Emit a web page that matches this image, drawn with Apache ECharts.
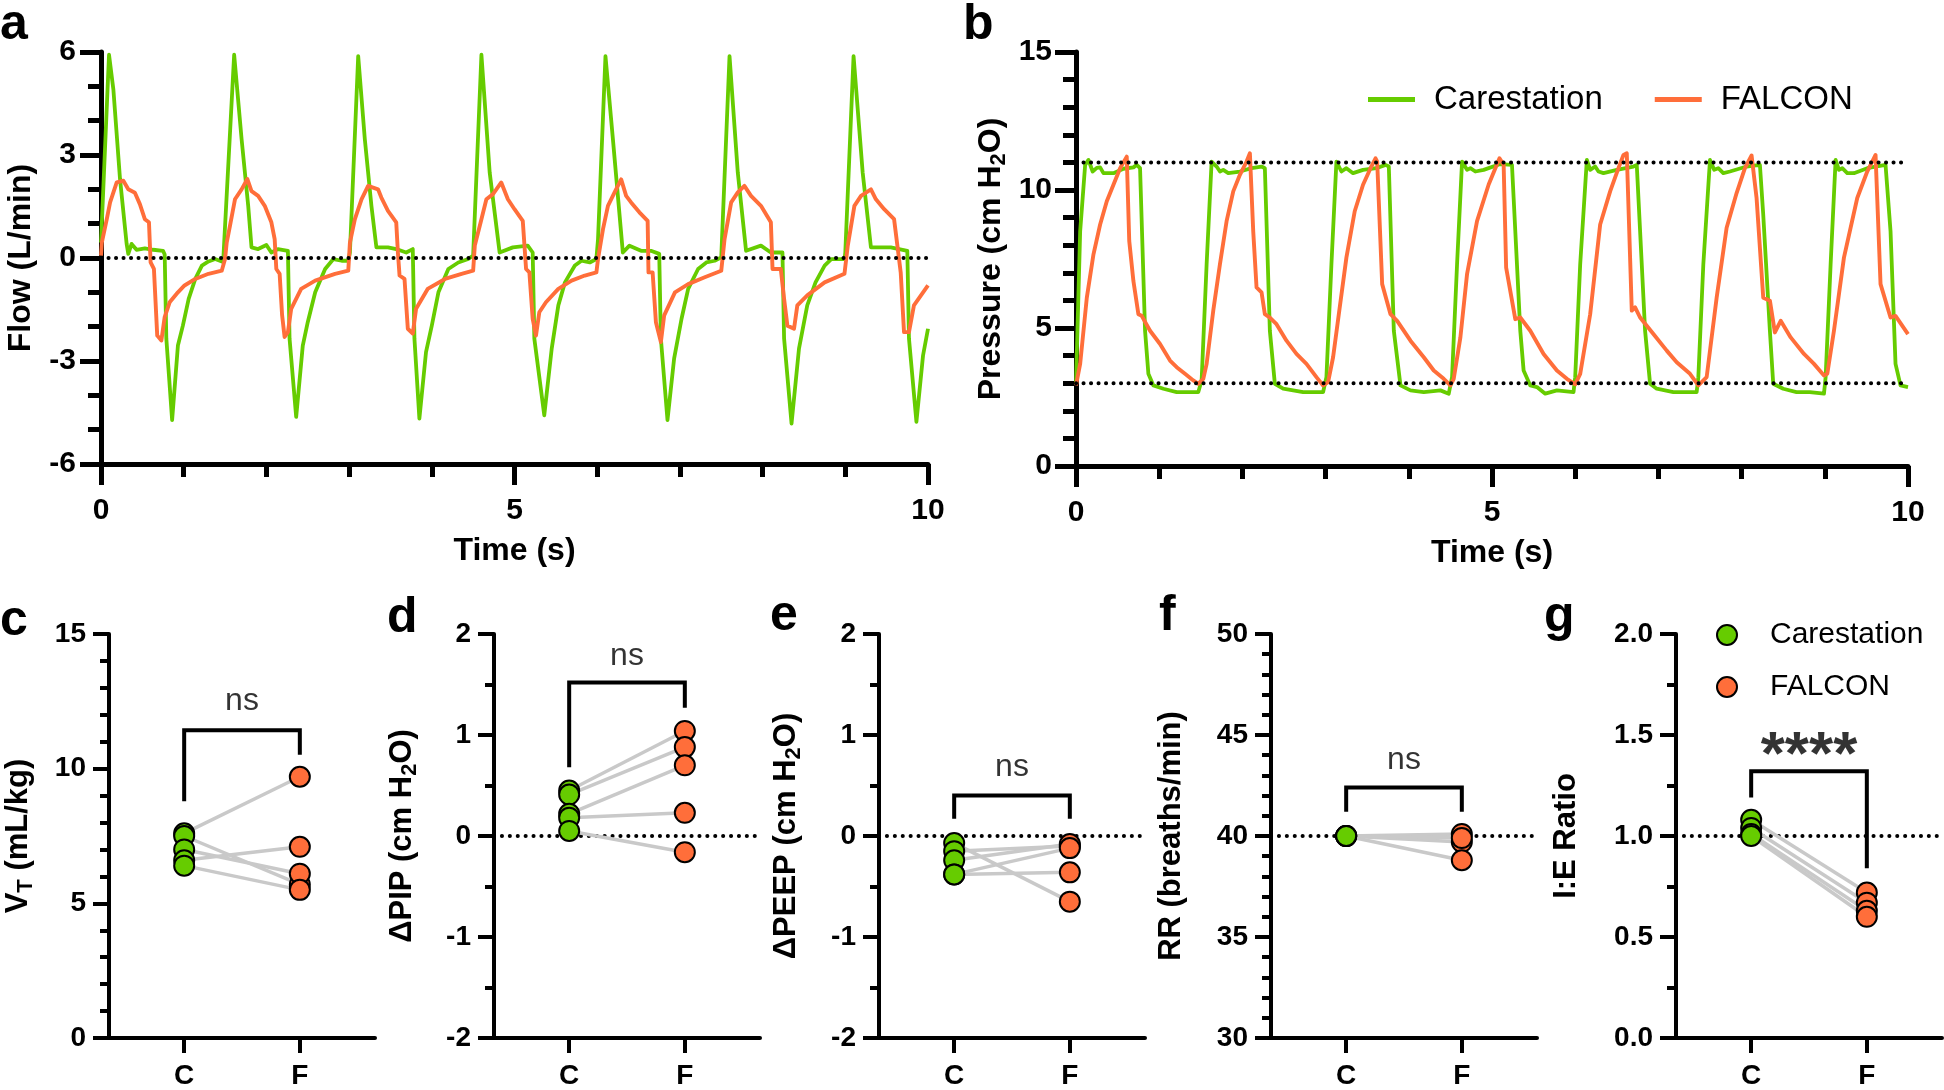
<!DOCTYPE html>
<html><head><meta charset="utf-8">
<script src="https://cdn.jsdelivr.net/npm/echarts@6/dist/echarts.min.js"></script>
<style>html,body{margin:0;padding:0;background:#fff}#chart{width:1944px;height:1090px}</style>
</head><body><div id="chart"></div>
<script>
// ---------------- DATA ----------------
// Panel a: flow (L/min) vs time (s), [t, value]
const flowCarestation = [
[0,0.45],[0.097,5.92],[0.15,4.9],[0.23,2.3],[0.31,0.41],[0.33,0.12],[0.37,0.41],[0.43,0.24],[0.53,0.28],[0.63,0.24],[0.75,0.21],[0.77,0.1],[0.79,-2.35],[0.86,-4.72],[0.93,-2.55],[0.99,-1.97],[1.06,-1.19],[1.14,-0.61],[1.22,-0.22],[1.30,-0.1],[1.38,-0.03],[1.46,-0.1],[1.48,0.02],
[1.61,5.92],[1.70,3.46],[1.78,1.52],[1.82,0.31],[1.90,0.26],[2.0,0.38],[2.06,0.16],[2.14,0.26],[2.26,0.21],[2.28,-2.35],[2.36,-4.63],[2.44,-2.55],[2.5,-1.87],[2.59,-1.0],[2.71,-0.32],[2.81,-0.03],[2.91,-0.08],[2.99,-0.08],[3.01,0.16],
[3.11,5.88],[3.19,3.46],[3.27,1.52],[3.33,0.31],[3.47,0.31],[3.57,0.26],[3.69,0.16],[3.77,0.26],[3.79,-2.35],[3.85,-4.68],[3.93,-2.74],[4.0,-1.97],[4.08,-1.0],[4.2,-0.32],[4.32,-0.13],[4.44,-0.03],[4.5,0.07],
[4.6,5.92],[4.7,2.49],[4.82,0.16],[4.98,0.31],[5.16,0.36],[5.22,0.16],[5.24,-2.35],[5.36,-4.58],[5.45,-2.64],[5.53,-1.38],[5.61,-0.71],[5.73,-0.22],[5.81,-0.08],[5.91,-0.13],[5.99,-0.03],[6.01,0.55],
[6.1,5.88],[6.19,3.46],[6.31,0.16],[6.39,0.36],[6.53,0.21],[6.65,0.21],[6.75,0.12],[6.77,-2.35],[6.85,-4.72],[6.93,-2.93],[7.02,-1.77],[7.1,-0.9],[7.22,-0.32],[7.32,-0.13],[7.42,-0.08],[7.5,0.02],
[7.6,5.88],[7.7,2.49],[7.8,0.21],[7.98,0.36],[8.1,0.16],[8.24,0.16],[8.26,-2.35],[8.35,-4.82],[8.44,-2.64],[8.54,-1.38],[8.64,-0.71],[8.75,-0.22],[8.83,-0.03],[8.99,-0.03],[9.0,0.16],
[9.1,5.88],[9.21,2.49],[9.31,0.31],[9.43,0.31],[9.55,0.31],[9.75,0.21],[9.77,-2.35],[9.86,-4.77],[9.94,-2.84],[10.0,-2.06]
];
const flowFalcon = [
[0,0.07],[0.01,0.45],[0.07,1.13],[0.11,1.62],[0.19,2.2],[0.27,2.25],[0.33,2.0],[0.41,1.9],[0.47,1.57],[0.53,1.13],[0.58,1.04],[0.60,-0.13],[0.64,-0.32],[0.68,-2.26],[0.73,-2.4],[0.77,-1.72],[0.83,-1.29],[0.93,-1.0],[1.01,-0.8],[1.14,-0.61],[1.30,-0.46],[1.46,-0.37],
[1.50,-0.03],[1.52,0.45],[1.56,0.94],[1.62,1.71],[1.70,2.0],[1.77,2.3],[1.82,1.95],[1.90,1.81],[1.98,1.52],[2.06,1.04],[2.10,0.55],[2.12,-0.32],[2.16,-0.46],[2.19,-1.67],[2.22,-2.3],[2.26,-2.16],[2.30,-1.48],[2.42,-0.9],[2.59,-0.66],[2.83,-0.46],[2.99,-0.37],
[3.01,0.45],[3.07,1.13],[3.15,1.71],[3.23,2.1],[3.35,2.0],[3.39,1.76],[3.47,1.37],[3.57,1.04],[3.59,0.16],[3.61,-0.51],[3.67,-0.61],[3.71,-2.06],[3.77,-2.2],[3.81,-1.48],[3.95,-0.9],[4.16,-0.61],[4.36,-0.46],[4.5,-0.37],
[4.52,0.36],[4.6,1.13],[4.66,1.71],[4.74,1.86],[4.84,2.2],[4.92,1.71],[5.0,1.42],[5.1,1.08],[5.14,-0.32],[5.18,-0.42],[5.22,-1.77],[5.26,-2.26],[5.3,-1.58],[5.38,-1.29],[5.53,-0.9],[5.69,-0.66],[5.85,-0.51],[5.99,-0.42],
[6.01,-0.03],[6.07,0.84],[6.13,1.52],[6.21,1.91],[6.29,2.29],[6.35,1.81],[6.41,1.62],[6.51,1.33],[6.61,1.08],[6.62,-0.42],[6.67,-0.42],[6.71,-1.87],[6.77,-2.45],[6.81,-1.67],[6.94,-1.0],[7.1,-0.76],[7.3,-0.56],[7.5,-0.37],
[7.54,0.55],[7.62,1.62],[7.7,1.91],[7.78,2.1],[7.86,1.81],[7.98,1.52],[8.1,1.04],[8.12,-0.32],[8.22,-0.32],[8.26,-1.19],[8.3,-1.97],[8.38,-2.06],[8.42,-1.38],[8.54,-1.09],[8.75,-0.71],[8.99,-0.46],
[9.03,0.36],[9.11,1.52],[9.19,1.81],[9.31,2.0],[9.37,1.71],[9.47,1.42],[9.59,1.13],[9.63,0.36],[9.67,-0.42],[9.71,-2.16],[9.77,-2.16],[9.83,-1.38],[10.0,-0.8]
];
// Panel b: pressure (cm H2O) vs time (s), [t, value]
const pressureCarestation = [
[0,2.98],[0.05,8.5],[0.11,10.91],[0.15,11.09],[0.2,10.67],[0.25,10.8],[0.29,10.82],[0.33,10.61],[0.45,10.61],[0.57,10.77],[0.69,10.82],[0.73,10.91],[0.77,10.79],[0.83,4.9],[0.87,3.34],[0.93,2.92],[1.05,2.8],[1.21,2.68],[1.47,2.68],
[1.51,3.1],[1.57,7.31],[1.63,11.03],[1.69,10.85],[1.73,10.67],[1.77,10.73],[1.83,10.61],[1.97,10.67],[2.11,10.79],[2.23,10.85],[2.27,10.79],[2.33,4.9],[2.39,2.98],[2.49,2.8],[2.73,2.68],[2.97,2.68],
[3.01,3.22],[3.07,7.31],[3.13,11.03],[3.19,10.67],[3.25,10.79],[3.33,10.61],[3.45,10.73],[3.61,10.79],[3.72,10.91],[3.76,10.85],[3.82,4.9],[3.9,2.92],[4.02,2.74],[4.18,2.68],[4.38,2.74],[4.48,2.62],
[4.52,3.22],[4.58,7.31],[4.64,11.03],[4.7,10.73],[4.74,10.79],[4.8,10.67],[4.9,10.73],[5.1,10.94],[5.24,10.91],[5.26,9.71],[5.34,4.9],[5.38,3.46],[5.46,2.92],[5.54,2.86],[5.64,2.62],[5.78,2.74],[5.98,2.68],
[6.0,3.22],[6.06,7.31],[6.14,11.09],[6.18,10.73],[6.24,10.85],[6.28,10.67],[6.34,10.61],[6.5,10.73],[6.7,10.85],[6.74,10.91],[6.78,8.51],[6.84,4.9],[6.9,2.98],[6.98,2.8],[7.18,2.68],[7.46,2.68],
[7.48,3.22],[7.54,7.31],[7.62,11.09],[7.67,10.73],[7.72,10.79],[7.78,10.61],[7.86,10.67],[8.06,10.85],[8.22,10.91],[8.26,9.11],[8.34,4.9],[8.38,2.98],[8.5,2.8],[8.66,2.68],[8.82,2.68],[8.99,2.62],
[9.01,3.22],[9.07,7.31],[9.13,11.09],[9.17,10.73],[9.21,10.79],[9.27,10.61],[9.35,10.61],[9.51,10.79],[9.73,10.91],[9.79,8.51],[9.85,3.7],[9.91,2.92],[10.0,2.86]
];
const pressureFalcon = [
[0,2.92],[0.05,3.7],[0.13,6.1],[0.21,7.67],[0.29,8.75],[0.37,9.59],[0.45,10.19],[0.53,10.79],[0.61,11.21],[0.64,8.15],[0.69,6.7],[0.75,5.5],[0.79,5.44],[0.89,4.9],[1.01,4.42],[1.13,3.82],[1.21,3.58],[1.31,3.34],[1.41,3.1],[1.47,2.98],
[1.53,3.16],[1.57,3.7],[1.65,5.63],[1.73,7.31],[1.81,8.87],[1.89,9.95],[1.97,10.55],[2.05,11.03],[2.09,11.33],[2.13,8.51],[2.17,6.47],[2.23,6.29],[2.27,5.5],[2.33,5.38],[2.41,5.14],[2.53,4.54],[2.65,4.06],[2.77,3.7],[2.89,3.22],[2.97,2.92],
[3.03,3.04],[3.09,3.94],[3.17,5.75],[3.25,7.55],[3.35,9.23],[3.45,10.19],[3.54,10.79],[3.6,11.15],[3.62,11.03],[3.68,6.59],[3.78,5.5],[3.86,5.26],[4.02,4.54],[4.18,3.94],[4.3,3.46],[4.42,3.16],[4.5,2.92],
[4.54,3.16],[4.62,4.66],[4.7,6.95],[4.82,8.87],[4.96,10.2],[5.09,11.15],[5.14,10.91],[5.17,7.19],[5.28,5.32],[5.34,5.38],[5.46,4.9],[5.62,4.06],[5.78,3.46],[5.9,3.16],[6.0,2.96],
[6.06,3.34],[6.18,5.5],[6.3,8.75],[6.42,9.95],[6.52,10.79],[6.58,11.27],[6.62,11.33],[6.68,5.63],[6.72,5.75],[6.78,5.38],[6.94,4.78],[7.1,4.18],[7.22,3.76],[7.38,3.34],[7.48,2.92],
[7.58,3.22],[7.7,6.1],[7.82,8.63],[7.94,9.89],[8.04,10.79],[8.12,11.25],[8.18,9.71],[8.26,6.1],[8.34,5.99],[8.4,4.84],[8.47,5.26],[8.59,4.66],[8.75,4.06],[8.87,3.7],[8.99,3.28],
[9.03,3.34],[9.11,4.9],[9.23,7.55],[9.39,9.71],[9.51,10.67],[9.61,11.27],[9.67,6.59],[9.79,5.38],[9.85,5.44],[10.0,4.78]
];
// Paired values per subject (Carestation -> FALCON)
const groupLabels = ['C', 'F'];
const vtCare = [7.6, 7.5, 7.0, 6.6, 6.4];
const vtFalcon = [9.7, 5.7, 6.1, 7.1, 5.5];
const dPipCare = [0.45, 0.41, 0.22, 0.18, 0.05];
const dPipFalcon = [1.04, 0.88, 0.70, 0.23, -0.16];
const dPeepCare = [-0.07, -0.15, -0.24, -0.38, -0.38];
const dPeepFalcon = [-0.65, -0.10, -0.08, -0.36, -0.12];
const rrCare = [40.0, 40.0, 40.0, 40.0];
const rrFalcon = [40.1, 39.7, 39.9, 38.8];
const ieCare = [1.08, 1.04, 1.01, 1.00];
const ieFalcon = [0.72, 0.67, 0.63, 0.60];
const sigLabels = ['ns', 'ns', 'ns', 'ns', '****'];
const seriesNames = ['Carestation', 'FALCON'];

// ---------------- STYLE / LAYOUT ----------------
const FONT = '"Liberation Sans", Arial, Helvetica, sans-serif';
const GREEN = '#66cc00', ORANGE = '#ff6e3a', GREY = '#c9c9c9', BLACK = '#000';
const XMIN = 0.35, XMAX = 2.65;

const grids = [
  {left: 101, top: 52, width: 827, height: 412},
  {left: 1076, top: 52, width: 832, height: 414},
  {left: 109, top: 634, width: 266, height: 404},
  {left: 494, top: 634, width: 266, height: 404},
  {left: 879, top: 634, width: 266, height: 404},
  {left: 1271, top: 634, width: 266, height: 404},
  {left: 1676, top: 634, width: 266, height: 404}
];

const subRich = {sub: {fontSize: 22, fontWeight: 'bold', fontFamily: FONT, color: BLACK, padding: [16, 0, 0, 0]}};

function valAxis(o) {
  const w = o.w, big = o.big;
  const ax = {
    gridIndex: o.g, type: 'value', min: o.min, max: o.max,
    axisLine: {show: true, onZero: false, lineStyle: {color: BLACK, width: w}},
    axisTick: {show: true, length: o.tick, lineStyle: {color: BLACK, width: w}},
    splitLine: {show: false},
    axisLabel: {color: BLACK, fontWeight: 'bold', fontSize: big ? 30 : 28, fontFamily: FONT, margin: o.margin},
    name: o.name, nameLocation: 'middle', nameGap: o.gap,
    nameTextStyle: {color: BLACK, fontWeight: 'bold', fontSize: big ? 32 : 31, fontFamily: FONT, rich: subRich}
  };
  if (o.interval != null) ax.interval = o.interval;
  if (o.minor) ax.minorTick = {show: true, splitNumber: o.minor, length: o.minorLen, lineStyle: {color: BLACK, width: w}};
  if (o.fmt) ax.axisLabel.formatter = o.fmt;
  return ax;
}

const xAxes = [
  valAxis({g: 0, min: 0, max: 10, interval: 5, minor: 5, w: 5, big: true, tick: 21, minorLen: 13, margin: 32, name: 'Time (s)', gap: 71}),
  valAxis({g: 1, min: 0, max: 10, interval: 5, minor: 5, w: 5, big: true, tick: 21, minorLen: 13, margin: 32, name: 'Time (s)', gap: 71})
];
for (let g = 2; g <= 6; g++) {
  const ax = valAxis({g: g, min: XMIN, max: XMAX, w: 4, big: false, tick: 15, margin: 24, name: '', gap: 0});
  ax.axisTick.customValues = [1, 2];
  ax.axisLabel.customValues = [1, 2];
  ax.axisLabel.formatter = v => groupLabels[Math.round(v) - 1];
  xAxes.push(ax);
}
const yAxes = [
  valAxis({g: 0, min: -6, max: 6, interval: 3, minor: 3, w: 5, big: true, tick: 21, minorLen: 13, margin: 25, name: 'Flow (L/min)', gap: 64}),
  valAxis({g: 1, min: 0, max: 15, interval: 5, minor: 5, w: 5, big: true, tick: 21, minorLen: 13, margin: 24, name: 'Pressure (cm H{sub|2}O)', gap: 66}),
  valAxis({g: 2, min: 0, max: 15, interval: 5, minor: 5, w: 4, big: false, tick: 16, minorLen: 9, margin: 23, name: 'V{sub|T} (mL/kg)', gap: 72}),
  valAxis({g: 3, min: -2, max: 2, interval: 1, minor: 2, w: 4, big: false, tick: 16, minorLen: 9, margin: 23, name: '\u0394PIP (cm H{sub|2}O)', gap: 73}),
  valAxis({g: 4, min: -2, max: 2, interval: 1, minor: 2, w: 4, big: false, tick: 16, minorLen: 9, margin: 23, name: '\u0394PEEP (cm H{sub|2}O)', gap: 74}),
  valAxis({g: 5, min: 30, max: 50, interval: 5, minor: 5, w: 4, big: false, tick: 16, minorLen: 9, margin: 23, name: 'RR (breaths/min)', gap: 84}),
  valAxis({g: 6, min: 0, max: 2, interval: 0.5, minor: 2, w: 4, big: false, tick: 16, minorLen: 9, margin: 23, name: 'I:E Ratio', gap: 94, fmt: v => v.toFixed(1)})
];

// annotation layout (bracket heights / label heights in data units)
const brackets = [
  {top: 11.43, l: 8.79, r: 10.52, txt: 12.50},
  {top: 1.52, l: 0.68, r: 1.27, txt: 1.78},
  {top: 0.40, l: 0.17, r: 0.17, txt: 0.68},
  {top: 42.4, l: 41.2, r: 41.2, txt: 43.74},
  {top: 1.32, l: 1.19, r: 0.84, txt: 1.39}
];
const refLines = [null, 0, 0, 40, 1.0];

const pairedCare = [vtCare, dPipCare, dPeepCare, rrCare, ieCare];
const pairedFalcon = [vtFalcon, dPipFalcon, dPeepFalcon, rrFalcon, ieFalcon];

const dotted = (w, gap) => ({color: BLACK, width: w, type: [0.1, gap], cap: 'round'});

const series = [];
pairedCare.forEach((arr, i) => {
  series.push({type: 'scatter', name: seriesNames[0], xAxisIndex: i + 2, yAxisIndex: i + 2, z: 6,
    symbolSize: 20, itemStyle: {color: GREEN, borderColor: BLACK, borderWidth: 2, opacity: 1},
    data: arr.map(v => [1, v])});
});
pairedFalcon.forEach((arr, i) => {
  series.push({type: 'scatter', name: seriesNames[1], xAxisIndex: i + 2, yAxisIndex: i + 2, z: 6,
    symbolSize: 20, itemStyle: {color: ORANGE, borderColor: BLACK, borderWidth: 2, opacity: 1},
    data: arr.map(v => [2, v])});
});
series.push({type: 'line', name: seriesNames[0], xAxisIndex: 0, yAxisIndex: 0, data: flowCarestation, symbol: 'none', z: 3,
  lineStyle: {color: GREEN, width: 3.8, join: 'round'}, itemStyle: {color: GREEN}});
series.push({type: 'line', name: seriesNames[1], xAxisIndex: 0, yAxisIndex: 0, data: flowFalcon, symbol: 'none', z: 4,
  lineStyle: {color: ORANGE, width: 3.9, join: 'round'}, itemStyle: {color: ORANGE}});
series.push({type: 'line', name: seriesNames[0], xAxisIndex: 1, yAxisIndex: 1, data: pressureCarestation, symbol: 'none', z: 3,
  lineStyle: {color: GREEN, width: 3.8, join: 'round'}, itemStyle: {color: GREEN}});
series.push({type: 'line', name: seriesNames[1], xAxisIndex: 1, yAxisIndex: 1, data: pressureFalcon, symbol: 'none', z: 4,
  lineStyle: {color: ORANGE, width: 3.9, join: 'round'}, itemStyle: {color: ORANGE}});
series.push({type: 'line', xAxisIndex: 0, yAxisIndex: 0, data: [[0, 0], [10, 0]], symbol: 'none', z: 5, silent: true, lineStyle: dotted(4, 7.4)});
series.push({type: 'line', xAxisIndex: 1, yAxisIndex: 1, data: [[0, 11], [10, 11]], symbol: 'none', z: 5, silent: true, lineStyle: dotted(4, 7.4)});
series.push({type: 'line', xAxisIndex: 1, yAxisIndex: 1, data: [[0, 3], [10, 3]], symbol: 'none', z: 5, silent: true, lineStyle: dotted(4, 7.4)});
refLines.forEach((r, i) => {
  if (r === null) return;
  series.push({type: 'line', xAxisIndex: i + 2, yAxisIndex: i + 2, data: [[XMIN, r], [XMAX, r]], symbol: 'none', z: 2, silent: true, lineStyle: dotted(4, 7.8)});
});
pairedCare.forEach((arr, i) => {
  arr.forEach((v, k) => {
    series.push({type: 'line', xAxisIndex: i + 2, yAxisIndex: i + 2, data: [[1, v], [2, pairedFalcon[i][k]]], symbol: 'none', z: 3, silent: true,
      lineStyle: {color: GREY, width: 3.5}});
  });
});
brackets.forEach((b, i) => {
  series.push({type: 'line', xAxisIndex: i + 2, yAxisIndex: i + 2, data: [[1, b.l], [1, b.top], [2, b.top], [2, b.r]], symbol: 'none', z: 4, silent: true,
    lineStyle: {color: BLACK, width: 4, join: 'miter'}});
  const star = sigLabels[i] !== 'ns';
  series.push({type: 'scatter', xAxisIndex: i + 2, yAxisIndex: i + 2, data: [[1.5, b.txt]], symbolSize: 1, z: 7, silent: true,
    itemStyle: {color: 'rgba(0,0,0,0)'},
    label: {show: true, position: 'inside', formatter: sigLabels[i], color: BLACK, fontFamily: FONT,
      fontSize: star ? 62 : 32, fontWeight: star ? 'bold' : 'normal'}});
});

const letters = [
  ['a', 0, 0], ['b', 963, 0], ['c', 0, 596], ['d', 387, 593], ['e', 770, 591], ['f', 1159, 591], ['g', 1544, 592]
];

const option = {
  animation: false,
  backgroundColor: '#fff',
  textStyle: {fontFamily: FONT},
  grid: grids,
  xAxis: xAxes,
  yAxis: yAxes,
  legend: [
    {left: 1368, top: 83, padding: 0, itemWidth: 47, itemHeight: 5, itemGap: 52, icon: 'rect', selectedMode: false,
      data: [{name: 'Carestation', itemStyle: {color: GREEN, borderWidth: 0}}, {name: 'FALCON', itemStyle: {color: ORANGE, borderWidth: 0}}],
      textStyle: {fontSize: 33, fontFamily: FONT, color: BLACK, padding: [0, 0, 0, 14]}},
    {left: 1716, top: 620, orient: 'vertical', padding: 0, itemWidth: 20, itemHeight: 20, itemGap: 22, icon: 'circle', selectedMode: false,
      data: [{name: 'Carestation', itemStyle: {color: GREEN, borderColor: BLACK, borderWidth: 2}}, {name: 'FALCON', itemStyle: {color: ORANGE, borderColor: BLACK, borderWidth: 2}}],
      textStyle: {fontSize: 30, fontFamily: FONT, color: BLACK, padding: [0, 0, 0, 28]}}
  ],
  graphic: letters.map(l => ({type: 'text', left: l[1], top: l[2], silent: true,
    style: {text: l[0], font: 'bold 50px ' + FONT, fill: BLACK}})),
  series: series
};

const chart = echarts.init(document.getElementById('chart'), null, {renderer: 'canvas'});
chart.setOption(option);
</script>
</body></html>
